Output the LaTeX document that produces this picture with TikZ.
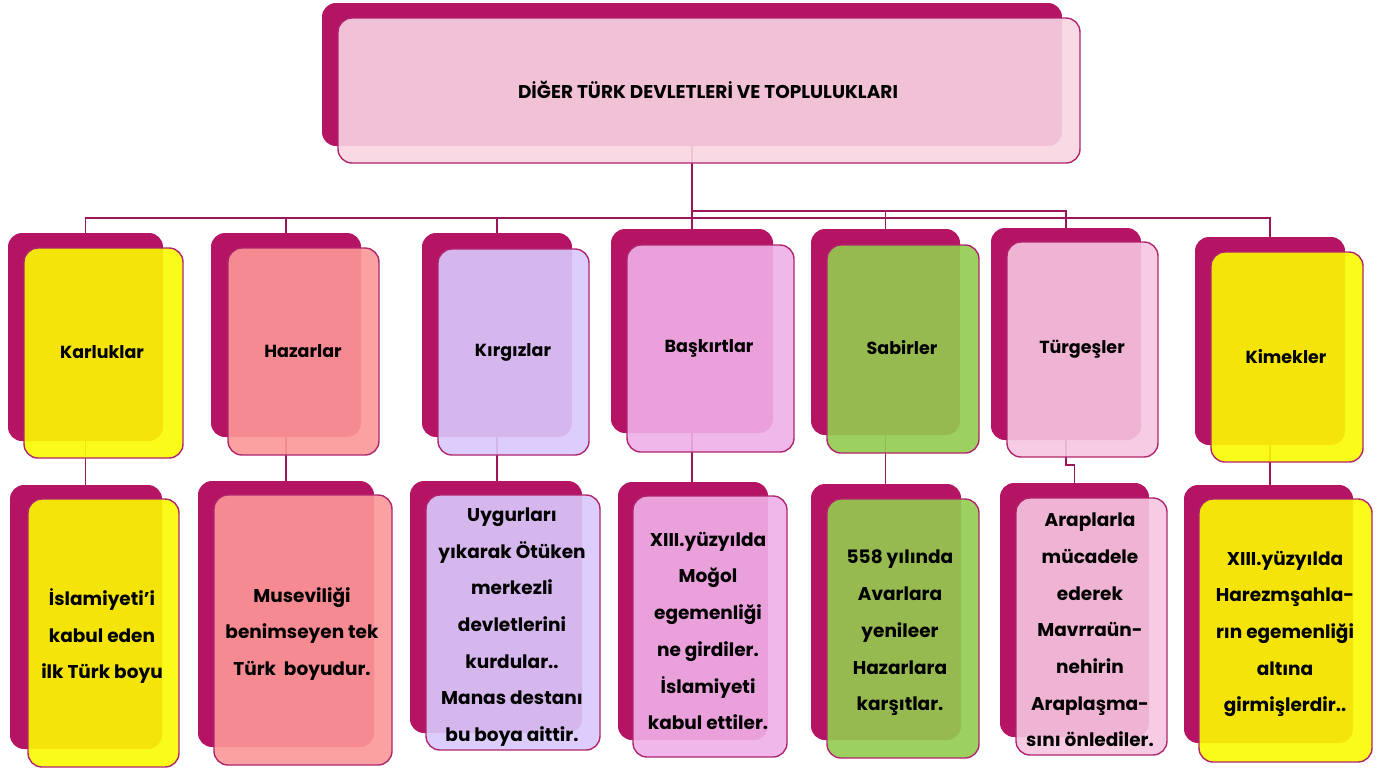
\documentclass[tikz,border=0pt]{standalone}
\usepackage{fontspec}
\setmainfont{Poppins}
\usetikzlibrary{fit,backgrounds}
\definecolor{mag}{RGB}{181,19,99}
\definecolor{edge}{RGB}{176,38,110}
\definecolor{linec}{RGB}{155,22,90}
\definecolor{topc}{RGB}{248,213,226}
\definecolor{yel}{RGB}{251,251,0}
\definecolor{haz}{RGB}{252,151,152}
\definecolor{kir}{RGB}{217,200,252}
\definecolor{bas}{RGB}{239,176,233}
\definecolor{sab}{RGB}{147,205,78}
\definecolor{tur}{RGB}{246,198,224}
\begin{document}
\begin{tikzpicture}[x=1pt,y=-1pt,
  backbox/.style={fill=mag, rounded corners=14pt, inner sep=0pt},
  frontbox/.style={draw=edge, line width=1.4pt, rounded corners=14pt, inner sep=0pt, fill opacity=0.9},
  conn/.style={draw=linec, line width=1.8pt},
  lbl/.style={font=\bfseries\fontsize{17.5}{20}\selectfont, text=black, inner sep=0pt},
  ttl/.style={font=\bfseries\fontsize{18.5}{22}\selectfont, text=black, inner sep=0pt},
  body/.style={font=\bfseries\fontsize{18.5}{36.7}\selectfont, align=center, text=black, inner sep=0pt}]
\useasboundingbox (0,0) rectangle (1387,772);
\newcommand\pairbox[6]{%
  \node[backbox, fit={#2 #3}] (#1b) {};
  \node[frontbox, fill=#6, fit={#4 #5}] (#1) {};}
% junctions
\coordinate (j) at (692,218);
\coordinate (j2) at (692,211);
% boxes (names)
\pairbox{top}{(322,3)}{(1062,146)}{(338,18)}{(1080,163)}{topc}
\pairbox{k}{(8,233)}{(163,441)}{(24,248)}{(183,458)}{yel}
\pairbox{h}{(211,233)}{(361,437)}{(228,248)}{(379,455)}{haz}
\pairbox{ki}{(422,233)}{(572,437)}{(438,249)}{(589,455)}{kir}
\pairbox{b}{(611,229)}{(773,433)}{(627,245)}{(794,452)}{bas}
\pairbox{s}{(811,229)}{(960,435)}{(827,245)}{(979,453)}{sab}
\pairbox{t}{(991,228)}{(1141,440)}{(1007,242)}{(1158,457)}{tur}
\pairbox{km}{(1195,237)}{(1345,445)}{(1211,252)}{(1363,462)}{yel}
% boxes (descriptions)
\pairbox{kd}{(10,485)}{(162,749)}{(28,499)}{(179,767)}{yel}
\pairbox{hd}{(198,481)}{(374,747)}{(214,495)}{(392,765)}{haz}
\pairbox{kid}{(410,481)}{(582,733)}{(426,495)}{(600,750)}{kir}
\pairbox{bd}{(618,482)}{(768,740)}{(633,496)}{(787,757)}{bas}
\pairbox{sd}{(811,484)}{(961,740)}{(827,499)}{(979,758)}{sab}
\pairbox{td}{(1000,483)}{(1149,737)}{(1016,498)}{(1167,755)}{tur}
\pairbox{kmd}{(1184,485)}{(1353,743)}{(1199,499)}{(1372,762)}{yel}
% connectors (behind boxes)
\begin{scope}[on background layer]
\fill[white] (0,0) rectangle (1387,772);
\draw[conn] (topb.south) -- (j);
\draw[conn] (kb.north) |- (j);
\draw[conn] (hb.north) |- (j);
\draw[conn] (kib.north) |- (j);
\draw[conn] (kmb.north) |- (j);
\draw[conn] (bb.north) |- (j2);
\draw[conn] (sb.north) |- (j2);
\draw[conn] (tb.north) |- (j2);
\draw[conn] (kb.south) -- (kb.south |- kdb.north);
\draw[conn] (hb.south) -- (hb.south |- hdb.north);
\draw[conn] (kib.south) -- (kib.south |- kidb.north);
\draw[conn] (bb.south) -- (bb.south |- bdb.north);
\draw[conn] (sb.south) -- (sb.south |- sdb.north);
\draw[conn] (tb.south) -- ++(0,25) -| (tdb.north);
\draw[conn] (kmb.south) -- (kmb.south |- kmdb.north);
\end{scope}
% texts
\node[ttl] (topt) at (708,90) {DİĞER TÜRK DEVLETLERİ VE TOPLULUKLARI};
\node[lbl] (kt) at (102,352) {Karluklar};
\node[lbl] (ht) at (303,351) {Hazarlar};
\node[lbl] (kit) at (513,352) {Kırgızlar};
\node[lbl] (bt) at (709,348) {Başkırtlar};
\node[lbl] (st) at (902,348) {Sabirler};
\node[lbl] (tt) at (1082,349) {Türgeşler};
\node[lbl] (kmt) at (1286,357) {Kimekler};
\node[body] (kdt) at (102,636) {İslamiyeti’i\\kabul eden\\ilk Türk boyu};
\node[body] (hdt) at (302,634) {Museviliği\\benimseyen tek\\Türk\ \ boyudur.};
\node[body] (kidt) at (512,627) {Uygurları\\yıkarak Ötüken\\merkezli\\devletlerini\\kurdular..\\Manas destanı\\bu boya aittir.};
\node[body] (bdt) at (708,631) {XIII.yüzyılda\\Moğol\\egemenliği\\ne girdiler.\\İslamiyeti\\kabul ettiler.};
\node[body] (sdt) at (900,633) {558 yılında\\Avarlara\\yenileer\\Hazarlara\\karşıtlar.};
\node[body] (tdt) at (1090,630) {Araplarla\\mücadele\\ederek\\Mavrraün-\\nehirin\\Araplaşma-\\sını önlediler.};
\node[body] (kmdt) at (1285,634) {XIII.yüzyılda\\Harezmşahla-\\rın egemenliği\\altına\\girmişlerdir..};
\end{tikzpicture}
\end{document}
